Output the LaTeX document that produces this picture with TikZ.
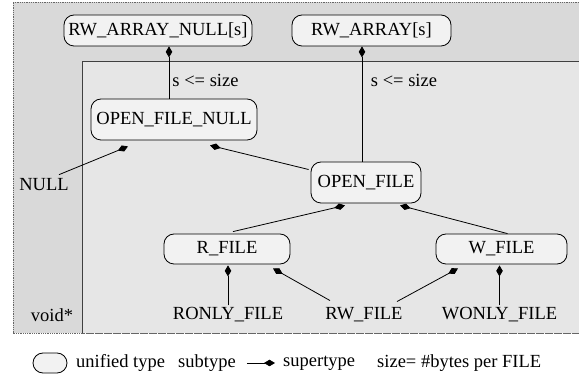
\documentclass[tikz,border=0pt]{standalone}
\usepackage{fontspec}
\setmainfont{Liberation Serif}
\usetikzlibrary{arrows.meta,calc}
\definecolor{outerfill}{RGB}{217,217,217}
\definecolor{innerfill}{RGB}{230,230,230}
\definecolor{boxfill}{RGB}{242,242,242}
\newcommand{\us}{\textunderscore}
\tikzset{
  typebox/.style={draw=black, line width=0.8pt, rounded corners=10pt, fill=boxfill,
    inner sep=0pt, font=\fontsize{18.5}{21}\selectfont},
  plain/.style={inner sep=1pt, font=\fontsize{18.5}{21}\selectfont},
  sup/.style={line width=0.8pt, -{Diamond[length=11pt,width=6.5pt]}},
}
\begin{document}
\begin{tikzpicture}[x=1pt,y=-1pt]
\useasboundingbox (0,0) rectangle (579,379);
% regions: void* (outer) and the FILE part (inner)
\fill[outerfill] (13,2) rectangle (579,333);
\draw[densely dotted, draw=black!60, line width=0.8pt] (579,2) -- (13,2) -- (13,333) -- (579,333);
\fill[innerfill] (82,62) rectangle (579,333);
\draw[draw=black!75, line width=1pt] (579,62) -- (82,62) -- (82,333);
\draw[densely dotted, draw=black!60, line width=0.8pt] (82,333) -- (579,333);

% unified types
\node[typebox, minimum width=188pt, minimum height=31pt] (ranull) at (158,30.5) {RW\us ARRAY\us NULL[s]};
\node[typebox, minimum width=159pt, minimum height=31pt] (rarr) at (371.5,30.5) {RW\us ARRAY[s]};
\node[typebox, minimum width=166pt, minimum height=41pt] (ofnull) at (174,119.5) {OPEN\us FILE\us NULL};
\node[typebox, minimum width=110pt, minimum height=41pt] (of) at (366,182.5) {OPEN\us FILE};
\node[typebox, minimum width=126pt, minimum height=30pt] (rf) at (227,249) {R\us FILE};
\node[typebox, minimum width=131pt, minimum height=30pt] (wf) at (501.5,249) {W\us FILE};

% subtypes
\node[plain] (null) at (44,185) {NULL};
\node[plain] (void) at (52,315) {void*};
\node[plain] (ronly) at (228,315) {RONLY\us FILE};
\node[plain] (rw) at (364,315) {RW\us FILE};
\node[plain] (wonly) at (499.5,315) {WONLY\us FILE};

% size constraints
\node[plain] (c1) at (205.5,80) {s <= size};
\node[plain] (c2) at (404,80) {s <= size};

% subtype -> supertype links
\draw[sup] ([xshift=-5pt]ofnull.north) -- ([xshift=-5pt]ofnull.north |- ranull.south);
\draw[sup] ([xshift=-4pt]of.north) -- ([xshift=-4pt]of.north |- rarr.south);
\draw[sup] ([xshift=15pt,yshift=3pt]null.north) -- ([xshift=-46pt,yshift=-6pt]ofnull.south);
\draw[sup] ([xshift=-2pt,yshift=13pt]of.west) -- ([xshift=36pt,yshift=-5pt]ofnull.south);
\draw[sup] ([xshift=6pt,yshift=2pt]rf.north) -- ([xshift=-21pt,yshift=-2pt]of.south);
\draw[sup] ([xshift=6pt]wf.north) -- ([xshift=34pt,yshift=-2pt]of.south);
\draw[sup] ([yshift=1pt]ronly.north) -- ($(ronly.north |- rf.south)+(0,1)$);
\draw[sup] ([xshift=-34pt,yshift=6pt]rw.north) -- ([xshift=46pt,yshift=-4pt]rf.south);
\draw[sup] ([xshift=33pt,yshift=5pt]rw.north) -- ([xshift=-43.5pt,yshift=-4pt]wf.south);
\draw[sup] ([yshift=1pt]wonly.north) -- ($(wonly.north |- wf.south)+(0,1)$);

% legend
\node[draw=black, line width=0.8pt, rounded corners=10pt, fill=boxfill,
  minimum width=34pt, minimum height=20pt, inner sep=0pt] (lbox) at (50,363) {};
\node[plain, anchor=west] (lunified) at (75,363) {unified type};
\node[plain, anchor=west] (lsub) at (177,363) {subtype};
\node[plain, anchor=west] (lsup) at (282,363) {supertype};
\node[plain, anchor=west] (lsize) at (376,363) {size= \#bytes per FILE};
\draw[sup] ([xshift=10pt]lsub.east) -- ([xshift=-7pt]lsup.west);
\end{tikzpicture}
\end{document}
